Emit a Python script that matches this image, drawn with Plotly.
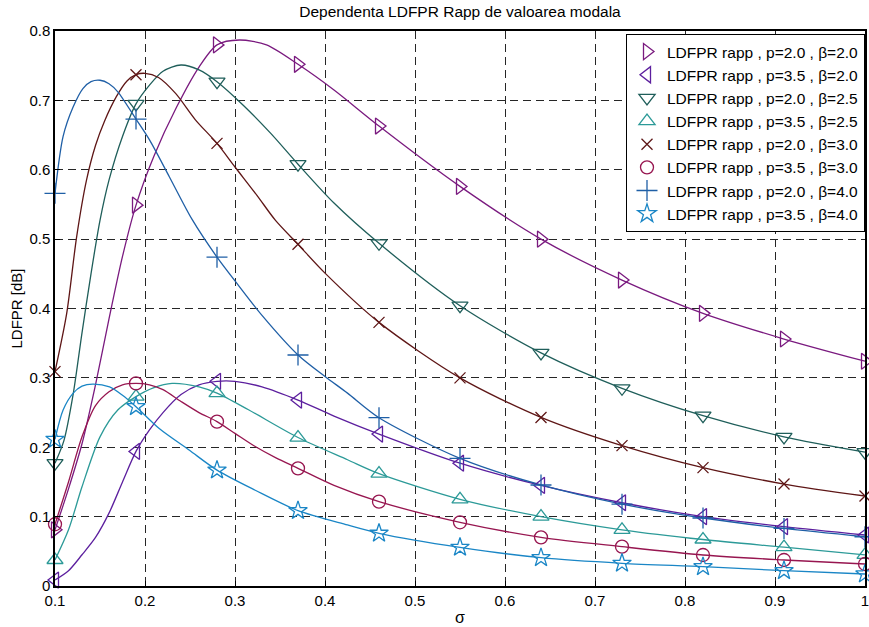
import plotly.graph_objects as go

# ---- data ----
marker_x = [0.1, 0.19, 0.28, 0.37, 0.46, 0.55, 0.64, 0.73, 0.82, 0.91, 1.0]

names = [
    "LDFPR rapp , p=2.0 , β=2.0",
    "LDFPR rapp , p=3.5 , β=2.0",
    "LDFPR rapp , p=2.0 , β=2.5",
    "LDFPR rapp , p=3.5 , β=2.5",
    "LDFPR rapp , p=2.0 , β=3.0",
    "LDFPR rapp , p=3.5 , β=3.0",
    "LDFPR rapp , p=2.0 , β=4.0",
    "LDFPR rapp , p=3.5 , β=4.0",
]

s1_x = [0.1, 0.115, 0.13, 0.145, 0.16, 0.175, 0.19, 0.21, 0.235, 0.26, 0.28, 0.305, 0.335, 0.37, 0.41, 0.46, 0.55, 0.64, 0.73, 0.82, 0.91, 1.0]
s1_y = [0.081, 0.14, 0.205, 0.29, 0.385, 0.475, 0.549, 0.62, 0.69, 0.748, 0.78, 0.787, 0.78, 0.752, 0.715, 0.663, 0.576, 0.500, 0.441, 0.393, 0.356, 0.324]

s2_x = [0.1, 0.115, 0.13, 0.145, 0.16, 0.175, 0.19, 0.205, 0.22, 0.24, 0.26, 0.28, 0.3, 0.33, 0.37, 0.41, 0.46, 0.55, 0.64, 0.73, 0.82, 0.91, 1.0]
s2_y = [0.0086, 0.022, 0.045, 0.07, 0.105, 0.15, 0.194, 0.225, 0.25, 0.276, 0.29, 0.295, 0.295, 0.287, 0.268, 0.245, 0.219, 0.177, 0.145, 0.120, 0.100, 0.0855, 0.0735]

s3_x = [0.1, 0.11, 0.12, 0.13, 0.14, 0.15, 0.16, 0.175, 0.19, 0.205, 0.22, 0.24, 0.26, 0.28, 0.31, 0.34, 0.37, 0.41, 0.46, 0.55, 0.64, 0.73, 0.82, 0.91, 1.0]
s3_y = [0.177, 0.21, 0.275, 0.365, 0.45, 0.527, 0.585, 0.648, 0.695, 0.722, 0.742, 0.751, 0.744, 0.727, 0.692, 0.652, 0.608, 0.552, 0.494, 0.404, 0.336, 0.285, 0.2455, 0.215, 0.193]

s4_x = [0.1, 0.115, 0.13, 0.15, 0.17, 0.19, 0.21, 0.23, 0.26, 0.28, 0.315, 0.37, 0.425, 0.46, 0.55, 0.64, 0.73, 0.82, 0.91, 1.0]
s4_y = [0.0375, 0.081, 0.143, 0.215, 0.254, 0.273, 0.286, 0.292, 0.287, 0.278, 0.254, 0.214, 0.182, 0.162, 0.125, 0.100, 0.081, 0.067, 0.056, 0.045]

s5_x = [0.1, 0.113, 0.124, 0.135, 0.145, 0.155, 0.168, 0.18, 0.19, 0.2, 0.215, 0.234, 0.256, 0.28, 0.3, 0.325, 0.345, 0.37, 0.4, 0.46, 0.55, 0.64, 0.73, 0.82, 0.91, 1.0]
s5_y = [0.309, 0.393, 0.503, 0.585, 0.635, 0.67, 0.705, 0.728, 0.737, 0.739, 0.733, 0.710, 0.672, 0.638, 0.604, 0.562, 0.527, 0.4925, 0.451, 0.380, 0.300, 0.243, 0.2023, 0.1706, 0.147, 0.1297]

s6_x = [0.1, 0.115, 0.13, 0.145, 0.16, 0.175, 0.19, 0.205, 0.22, 0.24, 0.26, 0.28, 0.3, 0.3225, 0.345, 0.37, 0.41, 0.46, 0.55, 0.64, 0.73, 0.82, 0.91, 1.0]
s6_y = [0.089, 0.15, 0.215, 0.26, 0.28, 0.29, 0.292, 0.29, 0.283, 0.266, 0.25, 0.237, 0.22, 0.201, 0.185, 0.1696, 0.145, 0.1216, 0.0918, 0.0701, 0.0567, 0.0447, 0.0375, 0.0317]

s7_x = [0.1, 0.109, 0.12, 0.131, 0.14, 0.15, 0.16, 0.17, 0.19, 0.205, 0.227, 0.2525, 0.28, 0.304, 0.33, 0.37, 0.4, 0.425, 0.46, 0.55, 0.64, 0.73, 0.82, 0.91, 1.0]
s7_y = [0.566, 0.648, 0.69, 0.717, 0.727, 0.729, 0.724, 0.712, 0.673, 0.643, 0.59, 0.528, 0.474, 0.433, 0.39, 0.333, 0.302, 0.278, 0.2426, 0.184, 0.1456, 0.118, 0.098, 0.083, 0.071]

s8_x = [0.1, 0.109, 0.12, 0.13, 0.142, 0.1606, 0.175, 0.19, 0.2158, 0.249, 0.28, 0.3225, 0.37, 0.425, 0.46, 0.55, 0.64, 0.73, 0.82, 0.91, 1.0]
s8_y = [0.2114, 0.2537, 0.2777, 0.288, 0.291, 0.287, 0.275, 0.2585, 0.227, 0.196, 0.167, 0.138, 0.1086, 0.088, 0.076, 0.0557, 0.0408, 0.0327, 0.0278, 0.0221, 0.0173]

x_ticks = [0.1, 0.2, 0.3, 0.4, 0.5, 0.6, 0.7, 0.8, 0.9, 1.0]
x_ticklabels = ["0.1", "0.2", "0.3", "0.4", "0.5", "0.6", "0.7", "0.8", "0.9", "1"]
y_ticks = [0, 0.1, 0.2, 0.3, 0.4, 0.5, 0.6, 0.7, 0.8]
y_ticklabels = ["0", "0.1", "0.2", "0.3", "0.4", "0.5", "0.6", "0.7", "0.8"]

# ---- styles ----
series = [(s1_x, s1_y), (s2_x, s2_y), (s3_x, s3_y), (s4_x, s4_y),
          (s5_x, s5_y), (s6_x, s6_y), (s7_x, s7_y), (s8_x, s8_y)]
colors = ["#7A1A7F", "#5C1F9E", "#1F5E5A", "#2C9A98",
          "#5E1616", "#971650", "#1F5FA6", "#1A86C6"]
symbols = ["triangle-right-open", "triangle-left-open", "triangle-down-open",
           "triangle-up-open", "x-thin-open", "circle-open",
           "cross-thin-open", "star-open"]
sizes = [14, 14, 14, 14, 11, 13, 15, 14]

FONT = "Arial, Liberation Sans, Helvetica, sans-serif"

fig = go.Figure()

for (sx, sy), c in zip(series, colors):
    fig.add_trace(go.Scatter(x=sx, y=sy, mode="lines",
                             line=dict(color=c, width=1.3, shape="spline", smoothing=0.8),
                             showlegend=False, hoverinfo="skip"))

for (sx, sy), c, sym, sz, nm in zip(series, colors, symbols, sizes, names):
    lookup = {round(a, 4): b for a, b in zip(sx, sy)}
    my = [lookup[round(m, 4)] for m in marker_x]
    fig.add_trace(go.Scatter(x=marker_x, y=my, mode="markers", name=nm,
                             cliponaxis=False,
                             marker=dict(symbol=sym, size=sz, color=c,
                                         line=dict(color=c, width=1.3))))

axis_common = dict(
    showgrid=True, gridcolor="#262626", gridwidth=1, griddash="8px,5px",
    showline=True, linecolor="black", linewidth=1.5, mirror=True,
    ticks="inside", ticklen=5, tickcolor="black", zeroline=False,
    tickfont=dict(family=FONT, size=15, color="black"),
)

fig.update_xaxes(range=[0.1, 1.0], tickvals=x_ticks, ticktext=x_ticklabels,
                 title=dict(text="σ", font=dict(family=FONT, size=16, color="black"), standoff=4),
                 ticklabeloverflow="allow", **axis_common)
fig.update_yaxes(range=[0, 0.8], tickvals=y_ticks, ticktext=y_ticklabels,
                 title=dict(text="LDFPR [dB]", font=dict(family=FONT, size=15, color="black"), standoff=3),
                 **axis_common)

fig.update_layout(
    width=869, height=627,
    margin=dict(l=55, r=0, t=31, b=41),
    paper_bgcolor="white", plot_bgcolor="white",
    title=dict(text="Dependenta LDFPR Rapp de valoarea modala",
               font=dict(family=FONT, size=15.5, color="black"),
               x=0.5, xref="paper", xanchor="center",
               y=1 - 12 / 627, yref="container", yanchor="middle"),
    legend=dict(x=1, xanchor="right", y=1 - 3 / 555, yanchor="top",
                bgcolor="white", bordercolor="black", borderwidth=1,
                font=dict(family=FONT, size=15.5, color="black"),
                tracegroupgap=0, itemwidth=30),
    showlegend=True,
)

fig.write_html("out.html", config={"displayModeBar": False},
               post_script="document.body.style.margin='0px';document.body.style.overflow='hidden';")
